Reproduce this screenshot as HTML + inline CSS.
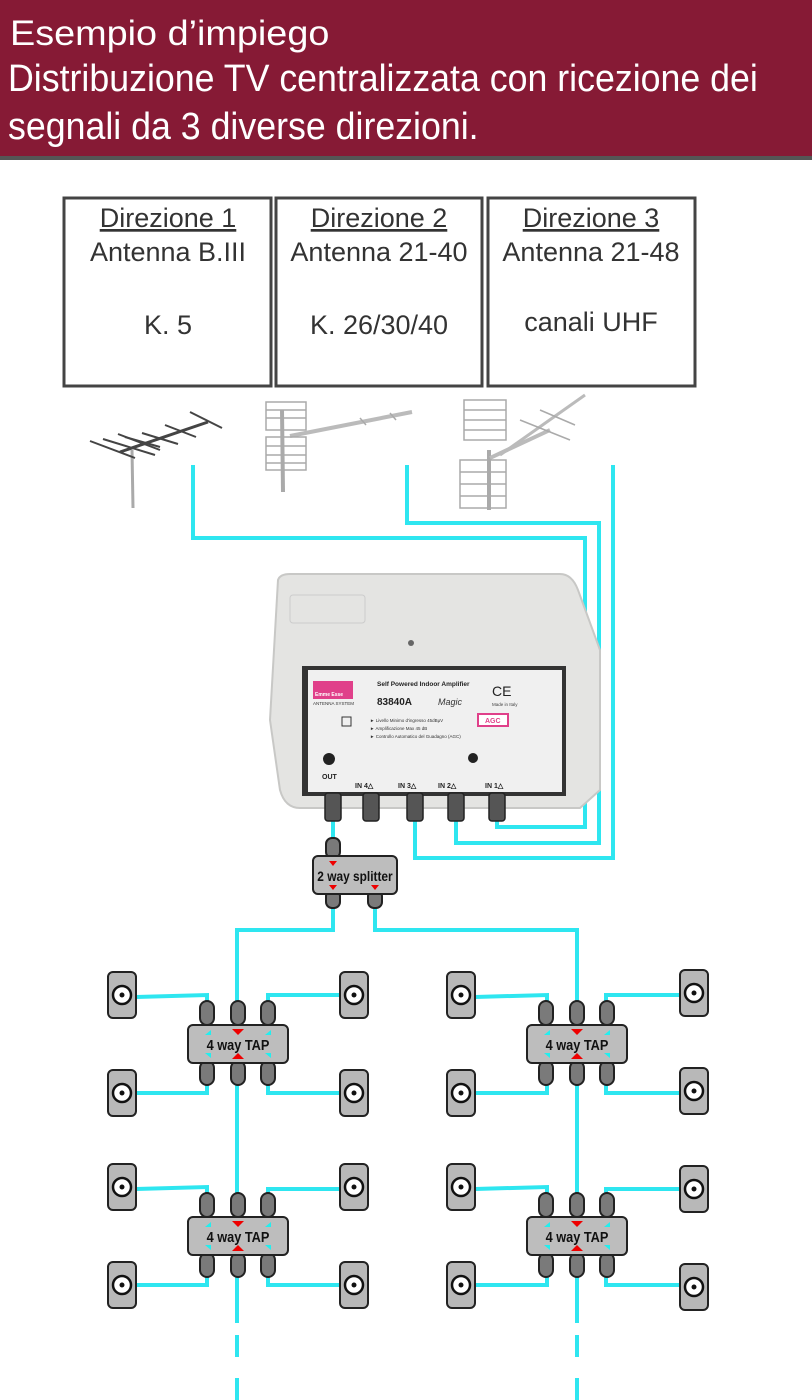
<!DOCTYPE html>
<html><head><meta charset="utf-8"><style>
html,body{margin:0;padding:0;background:#fff;}
body{width:812px;height:1400px;overflow:hidden;position:relative;font-family:"Liberation Sans",sans-serif;}
.hdr{position:absolute;left:0;top:0;width:812px;height:156px;background:#861a35;border-bottom:4px solid #555;color:#fff;}
.hdr .t1{position:absolute;left:10px;top:14px;font-size:35px;line-height:40px;transform:scaleX(1.08);transform-origin:left top;white-space:nowrap;}
.hdr .t2{position:absolute;left:8px;top:55px;font-size:38px;line-height:48px;font-weight:300;white-space:nowrap;transform:scaleX(0.94);transform-origin:left top;}
svg{position:absolute;left:0;top:0;}
</style></head><body>
<div class="hdr"><div class="t1">Esempio d’impiego</div><div class="t2">Distribuzione TV centralizzata con ricezione dei<br>segnali da 3 diverse direzioni.</div></div>
<svg width="812" height="1400" viewBox="0 0 812 1400" font-family="Liberation Sans, sans-serif">
<defs>
<g id="tap">
  <g fill="#7a7a7a" stroke="#222" stroke-width="2">
    <rect x="-38" y="-24" width="14" height="24" rx="7"/><rect x="-7" y="-24" width="14" height="24" rx="7"/><rect x="23" y="-24" width="14" height="24" rx="7"/>
    <rect x="-38" y="36" width="14" height="24" rx="7"/><rect x="-7" y="36" width="14" height="24" rx="7"/><rect x="23" y="36" width="14" height="24" rx="7"/>
    <rect x="-50" y="0" width="100" height="38" rx="5" fill="#bdbdbd"/>
  </g>
  <polygon points="-6,4 6,4 0,10" fill="#e00"/><polygon points="-6,34 6,34 0,28" fill="#e00"/>
  <polygon points="-33,10 -27,5 -27,10" fill="#2ee"/><polygon points="27,10 33,5 33,10" fill="#2ee"/>
  <polygon points="-33,28 -27,33 -27,28" fill="#2ee"/><polygon points="27,28 33,33 33,28" fill="#2ee"/>
</g>
<g id="out">
  <rect x="-14" y="-23" width="28" height="46" rx="5" fill="#b8b8b8" stroke="#222" stroke-width="2"/>
  <circle r="9" fill="#fff" stroke="#111" stroke-width="2.5"/><circle r="2.5" fill="#111"/>
</g>
</defs>

<g fill="none" stroke="#444" stroke-width="3">
<rect x="64" y="198" width="207" height="188"/><rect x="276" y="198" width="206" height="188"/><rect x="488" y="198" width="207" height="188"/>
</g>
<g font-size="27" fill="#333" text-anchor="middle">
<text x="168" y="227" text-decoration="underline">Direzione 1</text><text x="168" y="261">Antenna B.III</text><text x="168" y="334">K. 5</text>
<text x="379" y="227" text-decoration="underline">Direzione 2</text><text x="379" y="261">Antenna 21-40</text><text x="379" y="334">K. 26/30/40</text>
<text x="591" y="227" text-decoration="underline">Direzione 3</text><text x="591" y="261">Antenna 21-48</text><text x="591" y="331">canali UHF</text>
</g>

<g stroke="#444" stroke-width="2" fill="none">
<line x1="132" y1="450" x2="133" y2="508" stroke="#aaa" stroke-width="3"/>
<line x1="120" y1="452" x2="208" y2="422" stroke-width="3"/>
<line x1="90" y1="441" x2="135" y2="458"/><line x1="103" y1="439" x2="155" y2="455"/><line x1="118" y1="434" x2="160" y2="450"/>
<line x1="125" y1="437" x2="160" y2="447"/><line x1="142" y1="433" x2="178" y2="444"/><line x1="165" y1="425" x2="196" y2="437"/>
<line x1="190" y1="412" x2="222" y2="428"/>
</g>
<g stroke="#aaa" stroke-width="1.5" fill="none">
<line x1="282" y1="410" x2="283" y2="492" stroke-width="4"/>
<line x1="290" y1="436" x2="412" y2="412" stroke-width="4" stroke="#bbb"/>
<rect x="266" y="402" width="40" height="28"/><rect x="266" y="437" width="40" height="33"/>
<line x1="266" y1="410" x2="306" y2="410"/><line x1="266" y1="418" x2="306" y2="418"/><line x1="266" y1="446" x2="306" y2="446"/><line x1="266" y1="455" x2="306" y2="455"/><line x1="266" y1="463" x2="306" y2="463"/>
<line x1="360" y1="418" x2="366" y2="425"/><line x1="390" y1="413" x2="396" y2="420"/>
</g>
<g stroke="#aaa" stroke-width="1.5" fill="none">
<line x1="489" y1="450" x2="489" y2="510" stroke-width="4"/>
<line x1="490" y1="458" x2="550" y2="430" stroke-width="4" stroke="#bbb"/><line x1="500" y1="455" x2="585" y2="395" stroke-width="3" stroke="#bbb"/>
<rect x="464" y="400" width="42" height="40"/><rect x="460" y="460" width="46" height="48"/>
<line x1="464" y1="410" x2="506" y2="410"/><line x1="464" y1="420" x2="506" y2="420"/><line x1="464" y1="430" x2="506" y2="430"/>
<line x1="460" y1="472" x2="506" y2="472"/><line x1="460" y1="484" x2="506" y2="484"/><line x1="460" y1="496" x2="506" y2="496"/>
<line x1="520" y1="420" x2="570" y2="440"/><line x1="540" y1="410" x2="575" y2="425"/>
</g>

<g fill="none" stroke="#2ee6f0" stroke-width="4">
<polyline points="193,465 193,538 585,538 585,827 497,827 497,815"/>
<polyline points="407,465 407,523 599,523 599,843 456,843 456,815"/>
<polyline points="613,465 613,858 415,858 415,815"/>
<polyline points="333,815 333,850"/>
<polyline points="333,905 333,930 237,930 237,1323"/>
<polyline points="375,905 375,930 577,930 577,1323"/>
<line x1="237" y1="1335" x2="237" y2="1357"/><line x1="237" y1="1378" x2="237" y2="1400"/>
<line x1="577" y1="1335" x2="577" y2="1357"/><line x1="577" y1="1378" x2="577" y2="1400"/>
<polyline points="136,997 207,995 207,1004"/><polyline points="136,1093 207,1093 207,1085"/>
<polyline points="340,995 268,995 268,1004"/><polyline points="340,1093 268,1093 268,1085"/>
<polyline points="475,997 547,995 547,1004"/><polyline points="475,1093 547,1093 547,1085"/>
<polyline points="680,995 606,995 606,1004"/><polyline points="680,1093 606,1093 606,1085"/>
<polyline points="136,1189 207,1187 207,1196"/><polyline points="136,1285 207,1285 207,1277"/>
<polyline points="340,1189 268,1189 268,1196"/><polyline points="340,1285 268,1285 268,1277"/>
<polyline points="475,1189 547,1187 547,1196"/><polyline points="475,1285 547,1285 547,1277"/>
<polyline points="680,1189 606,1189 606,1196"/><polyline points="680,1285 606,1285 606,1277"/>
</g>

<path d="M278,580 Q280,574 290,574 L560,574 Q572,574 578,590 L600,650 L600,790 L580,808 L300,808 Q285,808 280,790 L270,720 Z" fill="#e4e4e2" stroke="#c8c8c6" stroke-width="2"/>
<rect x="290" y="595" width="75" height="28" rx="3" fill="none" stroke="#ccc"/>
<circle cx="411" cy="643" r="3" fill="#666"/>
<rect x="302" y="666" width="264" height="130" fill="#333"/>
<rect x="308" y="670" width="254" height="122" fill="#f0f0f0"/>
<rect x="313" y="681" width="40" height="18" fill="#e0408a"/>
<text x="315" y="696" font-size="5" fill="#fff" font-weight="bold">Emme Esse</text>
<text x="313" y="705" font-size="4.5" fill="#333">ANTENNA SYSTEM</text>
<text x="377" y="686" font-size="6.5" font-weight="bold" fill="#222">Self Powered Indoor Amplifier</text>
<text x="377" y="705" font-size="10" font-weight="bold" fill="#222">83840A</text>
<text x="438" y="705" font-size="9" font-style="italic" fill="#333">Magic</text>
<text x="492" y="696" font-size="14" fill="#222">CE</text>
<text x="492" y="706" font-size="4.5" fill="#444">Made in Italy</text>
<rect x="478" y="714" width="30" height="12" fill="#fff" stroke="#e0408a" stroke-width="2"/>
<text x="485" y="723" font-size="7" fill="#e0408a" font-weight="bold">AGC</text>
<text x="370" y="722" font-size="4.5" fill="#333">► Livello Minimo d'ingresso 45dBμV</text>
<text x="370" y="730" font-size="4.5" fill="#333">► Amplificazione Max 45 dB</text>
<text x="370" y="738" font-size="4.5" fill="#333">► Controllo Automatico del Guadagno (AGC)</text>
<rect x="342" y="717" width="9" height="9" fill="none" stroke="#333"/>
<circle cx="329" cy="759" r="6" fill="#222"/><circle cx="473" cy="758" r="5" fill="#222"/>
<g font-size="7" font-weight="bold" fill="#222">
<text x="322" y="779">OUT</text><text x="355" y="788">IN 4△</text><text x="398" y="788">IN 3△</text><text x="438" y="788">IN 2△</text><text x="485" y="788">IN 1△</text>
</g>
<g fill="#555" stroke="#222" stroke-width="1.5">
<rect x="325" y="793" width="16" height="28" rx="3"/><rect x="363" y="793" width="16" height="28" rx="3"/><rect x="407" y="793" width="16" height="28" rx="3"/><rect x="448" y="793" width="16" height="28" rx="3"/><rect x="489" y="793" width="16" height="28" rx="3"/>
</g>

<g fill="#7a7a7a" stroke="#222" stroke-width="2">
<rect x="326" y="838" width="14" height="20" rx="6"/>
<rect x="326" y="890" width="14" height="18" rx="6"/><rect x="368" y="890" width="14" height="18" rx="6"/>
<rect x="313" y="856" width="84" height="38" rx="5" fill="#bdbdbd"/>
</g>
<polygon points="329,861 337,861 333,866" fill="#e00"/><polygon points="329,885 337,885 333,890" fill="#e00"/><polygon points="371,885 379,885 375,890" fill="#e00"/>
<text x="355" y="881" font-size="14" font-weight="bold" fill="#111" text-anchor="middle" transform="translate(355 881) scale(0.85 1) translate(-355 -881)">2 way splitter</text>

<use href="#tap" x="238" y="1025"/><use href="#tap" x="577" y="1025"/>
<use href="#tap" x="238" y="1217"/><use href="#tap" x="577" y="1217"/>
<g font-size="15" font-weight="bold" fill="#111" text-anchor="middle">
<text x="238" y="1050" transform="translate(238 1050) scale(0.85 1) translate(-238 -1050)">4 way TAP</text>
<text x="577" y="1050" transform="translate(577 1050) scale(0.85 1) translate(-577 -1050)">4 way TAP</text>
<text x="238" y="1242" transform="translate(238 1242) scale(0.85 1) translate(-238 -1242)">4 way TAP</text>
<text x="577" y="1242" transform="translate(577 1242) scale(0.85 1) translate(-577 -1242)">4 way TAP</text>
</g>

<use href="#out" x="122" y="995"/><use href="#out" x="354" y="995"/><use href="#out" x="461" y="995"/><use href="#out" x="694" y="993"/>
<use href="#out" x="122" y="1093"/><use href="#out" x="354" y="1093"/><use href="#out" x="461" y="1093"/><use href="#out" x="694" y="1091"/>
<use href="#out" x="122" y="1187"/><use href="#out" x="354" y="1187"/><use href="#out" x="461" y="1187"/><use href="#out" x="694" y="1189"/>
<use href="#out" x="122" y="1285"/><use href="#out" x="354" y="1285"/><use href="#out" x="461" y="1285"/><use href="#out" x="694" y="1287"/>
</svg>
</body></html>
